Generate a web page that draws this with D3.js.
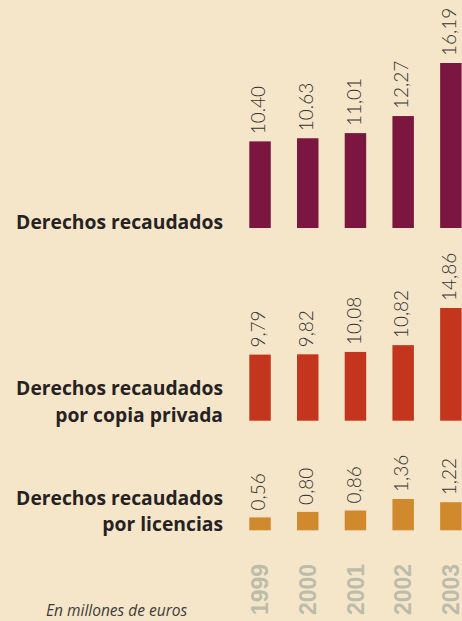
<!DOCTYPE html>
<html>
<head>
<meta charset="utf-8">
<script src="https://cdn.jsdelivr.net/npm/d3@7"></script>
<style>
  html, body { margin: 0; padding: 0; background: #f6e6c9; }
  svg { display: block; }
  .value { font-family: Lato, "Open Sans", sans-serif; font-weight: 300; font-size: 19px; fill: #333; }
  .title { font-family: "Open Sans", Lato, sans-serif; font-weight: 700; font-size: 19.3px; fill: #262223; }
  .year { font-family: "Liberation Sans", Arial, sans-serif; font-weight: 700; font-size: 23px; fill: #bcbcab; }
  .note { font-family: "Open Sans", sans-serif; font-style: italic; font-size: 15.5px; fill: #3c3c3c; }
</style>
</head>
<body>
<svg id="chart"></svg>
<script>
const years = ['1999', '2000', '2001', '2002', '2003'];

const recaudados = [10.40, 10.63, 11.01, 12.27, 16.19];
const recaudadosLabels = ['10.40', '10.63', '11,01', '12,27', '16,19'];
const copiaPrivada = [9.79, 9.82, 10.08, 10.82, 14.86];
const licencias = [0.56, 0.80, 0.86, 1.36, 1.22];

const titles = [
  ['Derechos recaudados'],
  ['Derechos recaudados', 'por copia privada'],
  ['Derechos recaudados', 'por licencias']
];
const note = 'En millones de euros';

const fullWidth = 462;
const fullHeight = 621;

const svg = d3.select('#chart')
  .attr('width', fullWidth)
  .attr('height', fullHeight);

const x = d3.scaleBand()
  .domain(years)
  .range([249.3, 461.6])
  .paddingInner(0.55)
  .paddingOuter(0);

const comma = v => d3.format('.2f')(v).replace('.', ',');

// each panel has its own baseline and scale (the original is not zero based)
const panels = [
  {values: recaudados, labels: recaudadosLabels, color: '#7a163f', base: 228, domain: [4, 16.19], top: 63},
  {values: copiaPrivada, labels: copiaPrivada.map(comma), color: '#c4351d', base: 420.7, domain: [2.6, 14.86], top: 308},
  {values: licencias, labels: licencias.map(comma), color: '#d08a2d', base: 530.3, domain: [0, 1.36], top: 499}
];

panels.forEach((p, i) => {
  const y = d3.scaleLinear().domain(p.domain).range([p.base, p.top]);
  const rows = years.map((yr, j) => ({year: yr, value: p.values[j], label: p.labels[j]}));

  const g = svg.append('g').attr('class', `panel panel--${i}`);

  g.selectAll('rect').data(rows)
    .enter().append('rect')
      .attr('x', d => x(d.year))
      .attr('width', x.bandwidth())
      .attr('y', d => y(d.value))
      .attr('height', d => p.base - y(d.value))
      .attr('fill', p.color);

  g.selectAll('.value').data(rows)
    .enter().append('text')
      .attr('class', 'value')
      .attr('transform', d => `translate(${x(d.year) + x.bandwidth() / 2 - 1}, ${y(d.value) - 7}) rotate(-90)`)
      .attr('dy', '0.33em')
      .text(d => d.label);

  const t = g.append('text')
    .attr('class', 'title')
    .attr('text-anchor', 'end');
  const lines = titles[i];
  lines.forEach((line, k) => {
    t.append('tspan')
      .attr('x', 223)
      .attr('y', p.base + 1 - (lines.length - 1 - k) * 26.5)
      .text(line);
  });
});

svg.append('g').selectAll('.year').data(years)
  .enter().append('text')
    .attr('class', 'year')
    .attr('transform', d => `translate(${x(d) + x.bandwidth() / 2}, 615) rotate(-90)`)
    .attr('dy', '0.36em')
    .text(d => d);

svg.append('text')
  .attr('class', 'note')
  .attr('x', 46)
  .attr('y', 616)
  .text(note);
</script>
</body>
</html>
